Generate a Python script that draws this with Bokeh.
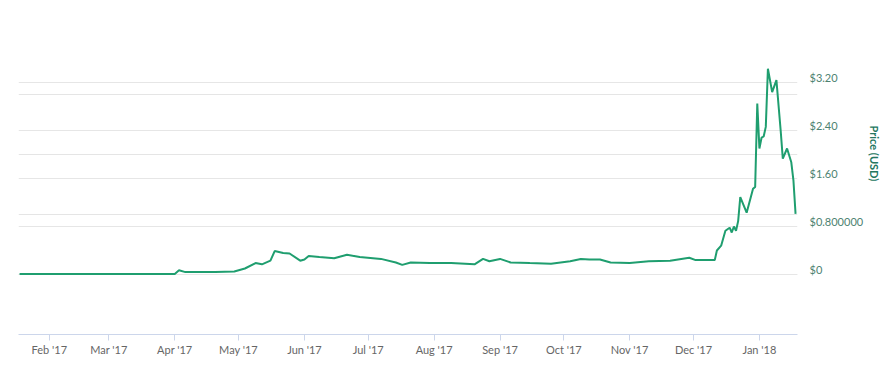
from datetime import datetime
from bokeh.plotting import figure
from bokeh.models import (LinearAxis, Range1d, FixedTicker, Grid, DatetimeTickFormatter,
                          MonthsTicker, Title, ColumnDataSource)
from bokeh.embed import file_html
from bokeh.resources import INLINE

# ---- data ----
dates = ["2017-01-18", "2017-02-15", "2017-03-15", "2017-04-01", "2017-04-03", "2017-04-06",
         "2017-04-20", "2017-04-29", "2017-05-04", "2017-05-09", "2017-05-12", "2017-05-16",
         "2017-05-18", "2017-05-22", "2017-05-25", "2017-05-30", "2017-06-01", "2017-06-03",
         "2017-06-08", "2017-06-15", "2017-06-21", "2017-06-27", "2017-07-07", "2017-07-14",
         "2017-07-17", "2017-07-21", "2017-07-30", "2017-08-09", "2017-08-20", "2017-08-24",
         "2017-08-27", "2017-09-01", "2017-09-06", "2017-09-15", "2017-09-25", "2017-10-04",
         "2017-10-09", "2017-10-13", "2017-10-18", "2017-10-23", "2017-11-01", "2017-11-10",
         "2017-11-20", "2017-11-29", "2017-12-02", "2017-12-11", "2017-12-12", "2017-12-14",
         "2017-12-16", "2017-12-18", "2017-12-19", "2017-12-20", "2017-12-21", "2017-12-22",
         "2017-12-23", "2017-12-26", "2017-12-29", "2017-12-30", "2017-12-31", "2018-01-01",
         "2018-01-02", "2018-01-03", "2018-01-04", "2018-01-05", "2018-01-07", "2018-01-09",
         "2018-01-11", "2018-01-12", "2018-01-14", "2018-01-16", "2018-01-17", "2018-01-18"]
price = [0.01, 0.01, 0.01, 0.01, 0.07, 0.04,
         0.04, 0.05, 0.10, 0.19, 0.17, 0.23,
         0.39, 0.36, 0.35, 0.23, 0.25, 0.31,
         0.29, 0.27, 0.33, 0.29, 0.26, 0.20,
         0.16, 0.20, 0.19, 0.19, 0.17, 0.26,
         0.22, 0.26, 0.20, 0.19, 0.18, 0.22,
         0.26, 0.25, 0.25, 0.20, 0.19, 0.22,
         0.23, 0.28, 0.24, 0.24, 0.40, 0.48,
         0.73, 0.78, 0.70, 0.80, 0.73, 0.89,
         1.29, 1.03, 1.43, 1.46, 2.85, 2.10,
         2.28, 2.30, 2.46, 3.43, 3.04, 3.24,
         2.40, 1.93, 2.10, 1.87, 1.57, 1.01]
grid_ticks = [0, 0.8, 1.6, 2.4, 3.2, 4.0]
y_ticks = [0, 0.8, 1.6, 2.4, 3.2]
y_tick_labels = ["$0", "$0.800000", "$1.60", "$2.40", "$3.20"]
y_title = "Price (USD)"

x = [datetime.strptime(d, "%Y-%m-%d") for d in dates]
src = ColumnDataSource(dict(x=x, y=price))

LINE = "#1f9e6f"
LABEL = "#4d8271"

p = figure(width=890, height=374, x_axis_type="datetime", output_backend="svg",
           toolbar_location=None, y_axis_location=None,
           x_range=Range1d(datetime(2017, 1, 17, 12), datetime(2018, 1, 18, 22)),
           y_range=Range1d(-1.0, 4.0),
           min_border_left=18, min_border_right=93, min_border_top=34, min_border_bottom=40)
p.outline_line_color = None
p.background_fill_color = "white"
p.border_fill_color = "white"

# grid
p.xgrid.grid_line_color = None
p.add_layout(Grid(dimension=1, ticker=FixedTicker(ticks=grid_ticks), grid_line_color="#e6e6e6",
                  grid_line_width=1))

# x axis
xa = p.xaxis[0]
xa.ticker = MonthsTicker(months=list(range(12)))
xa.formatter = DatetimeTickFormatter(months="%b '%y", days="%b '%y", years="%b '%y")
xa.axis_line_color = "#ccd6eb"
xa.major_tick_line_color = "#ccd6eb"
xa.major_tick_out = 6
xa.major_tick_in = 0
xa.minor_tick_line_color = None
xa.major_label_standoff = 2
xa.major_label_text_font = "Lato"
xa.major_label_text_font_size = "11px"
xa.major_label_text_color = "#666666"

# right price axis (labels sit slightly above the gridlines)
shift = 5.0 / 60.0
p.extra_y_ranges = {"lab": Range1d(-1.0 - shift, 4.0 - shift)}
ya = LinearAxis(y_range_name="lab", ticker=FixedTicker(ticks=y_ticks))
ya.major_label_overrides = {t: l for t, l in zip(y_ticks, y_tick_labels)}
ya.axis_line_color = None
ya.major_tick_line_color = None
ya.minor_tick_line_color = None
ya.major_label_standoff = 6
ya.major_label_text_font = "Lato"
ya.major_label_text_font_size = "11px"
ya.major_label_text_color = LABEL
p.add_layout(ya, "right")

p.add_layout(Title(text=y_title, align="left", offset=91, text_color="#24775f",
                   text_font="Lato", text_font_size="11px", text_font_style="bold",
                   standoff=3), "right")

p.line("x", "y", source=src, line_color=LINE, line_width=2)

open("out.html", "w").write(file_html(p, INLINE))
